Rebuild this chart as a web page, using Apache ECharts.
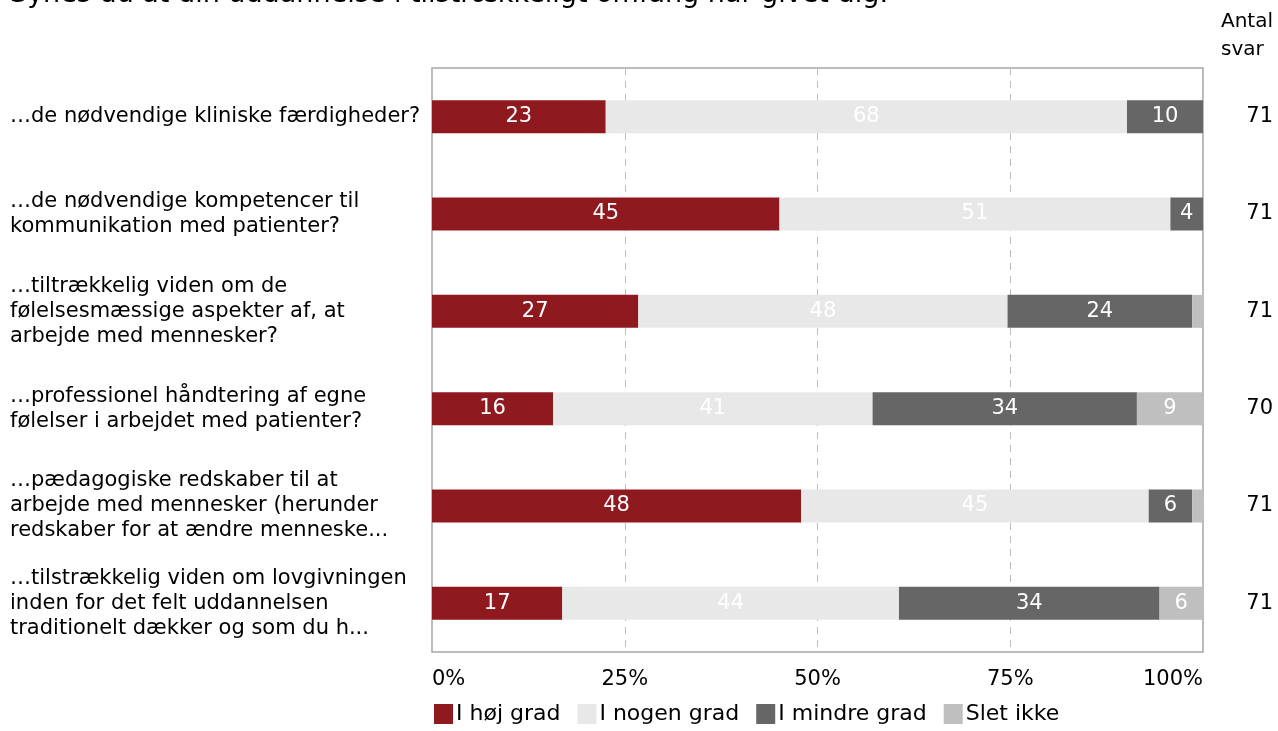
<!DOCTYPE html>
<html>
<head>
<meta charset="utf-8">
<script src="https://cdn.jsdelivr.net/npm/echarts@6/dist/echarts.min.js"></script>
<style>html,body{margin:0;padding:0;background:#fff;}#c{width:1278px;height:731px;}</style>
</head>
<body>
<div id="c"></div>
<script>
var title = 'Synes du at din uddannelse i tilstrækkeligt omfang har givet dig:';
var categories = [
  '\u2026de nødvendige kliniske færdigheder?',
  '\u2026de nødvendige kompetencer til\nkommunikation med patienter?',
  '\u2026tiltrækkelig viden om de\nfølelsesmæssige aspekter af, at\narbejde med mennesker?',
  '\u2026professionel håndtering af egne\nfølelser i arbejdet med patienter?',
  '\u2026pædagogiske redskaber til at\narbejde med mennesker (herunder\nredskaber for at ændre menneske...',
  '\u2026tilstrækkelig viden om lovgivningen\ninden for det felt uddannelsen\ntraditionelt dækker og som du h...'
];
var seriesNames = ['I høj grad', 'I nogen grad', 'I mindre grad', 'Slet ikke'];
// answer counts per category
var hojGrad    = [16, 32, 19, 11, 34, 12];
var nogenGrad  = [48, 36, 34, 29, 32, 31];
var mindreGrad = [7, 3, 17, 24, 4, 24];
var sletIkke   = [0, 0, 1, 6, 1, 4];
var antalSvar  = [71, 71, 71, 70, 71, 71];
var xTicks = ['0%', '25%', '50%', '75%', '100%'];
var colors = ['#8E1A20', '#E8E8E8', '#666666', '#BFBFBF'];

var counts = [hojGrad, nogenGrad, mindreGrad, sletIkke];
var cats = categories.slice().reverse();
var totals = antalSvar.slice().reverse();
var FONT = 'DejaVu Sans';
var FS = 21;

var series = counts.map(function (arr, i) {
  var rev = arr.slice().reverse();
  return {
    name: seriesNames[i],
    type: 'bar',
    stack: 'all',
    barWidth: 33,
    itemStyle: { color: colors[i] },
    label: {
      show: true,
      position: 'inside',
      color: '#ffffff',
      fontFamily: FONT,
      fontSize: FS,
      formatter: function (p) {
        var v = Math.round(p.value);
        return p.value >= 2.5 ? String(v) : '';
      }
    },
    emphasis: { disabled: true },
    data: rev.map(function (c, j) { return c / totals[j] * 100; })
  };
});

var chart = echarts.init(document.getElementById('c'), null, { renderer: 'canvas' });
chart.setOption({
  animation: false,
  color: colors,
  textStyle: { fontFamily: FONT },
  grid: { left: 432, right: 75, top: 68, bottom: 79, containLabel: false, show: true, borderColor: '#A6A6A6', borderWidth: 1.5 },
  graphic: [
    { type: 'text', left: 10, top: -19, style: { text: title, font: '27px "DejaVu Sans"', fill: '#000' } },
    { type: 'text', right: 5, top: 8, style: { text: 'Antal\nsvar', font: '20px "DejaVu Sans"', fill: '#000', align: 'right', lineHeight: 28 } }
  ],
  legend: {
    left: 429, bottom: 1,
    itemWidth: 19, itemHeight: 20, itemGap: 17,
    icon: 'rect',
    textStyle: { fontFamily: FONT, fontSize: 22, color: '#000', padding: [0, 0, 0, -2] },
    data: seriesNames
  },
  xAxis: {
    type: 'value', min: 0, max: 100, interval: 25,
    axisLine: { show: false },
    axisTick: { show: false },
    splitLine: { show: true, lineStyle: { type: [7, 6], color: '#BDBDBD', width: 1 } },
    axisLabel: {
      margin: 17, color: '#000', fontFamily: FONT, fontSize: FS,
      alignMinLabel: 'left', alignMaxLabel: 'right',
      formatter: function (v) { return xTicks[Math.round(v / 25)]; }
    }
  },
  yAxis: [
    {
      type: 'category', data: cats,
      axisLine: { show: false }, axisTick: { show: false },
      axisLabel: { align: 'left', margin: 422, color: '#000', fontFamily: FONT, fontSize: FS, lineHeight: 25, padding: [3, 0, 0, 0] }
    },
    {
      type: 'category', data: totals.map(String), position: 'right',
      axisLine: { show: false }, axisTick: { show: false },
      axisLabel: { align: 'right', margin: 70, color: '#000', fontFamily: FONT, fontSize: FS }
    }
  ],
  series: series
});
</script>
</body>
</html>
